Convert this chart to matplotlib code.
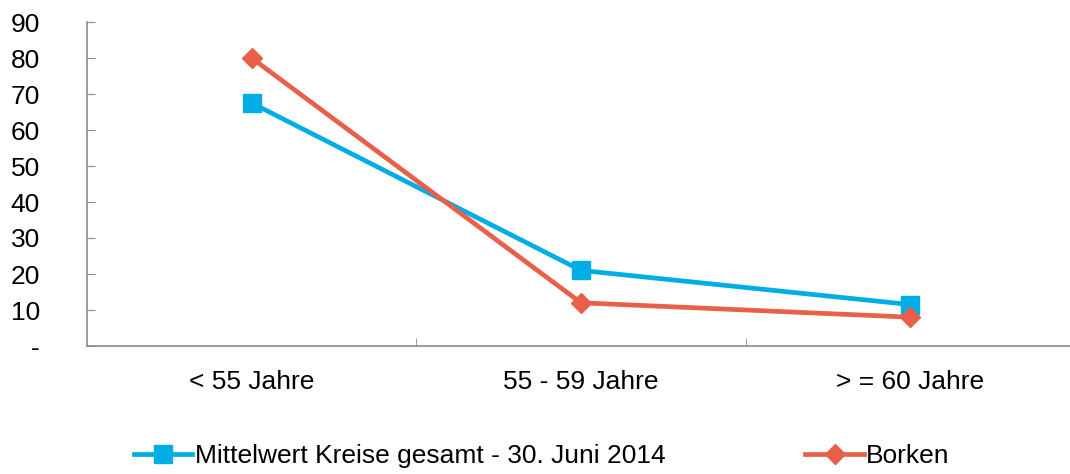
import numpy as np
import matplotlib.pyplot as plt

plt.rcParams['font.family'] = ['Liberation Sans', 'DejaVu Sans']

# data
categories = ['< 55 Jahre', '55 - 59 Jahre', '> = 60 Jahre']
kreise_mittel = [67.5, 21, 11.5]
borken = [80, 12, 8]
y_ticks = [0, 10, 20, 30, 40, 50, 60, 70, 80, 90]
y_labels = ['-', '10', '20', '30', '40', '50', '60', '70', '80', '90']

blue = '#00ADE6'
orange = '#E8604A'
axis_grey = '#8C8C8C'

fig = plt.figure(figsize=(10.7, 4.74), dpi=100)
ax = fig.add_axes([87 / 1070, 1 - 346 / 474, (1075 - 87) / 1070, (346 - 22) / 474])

x = np.arange(len(categories))
ax.plot(x, kreise_mittel, color=blue, lw=3.4, marker='s', ms=12.5,
        label='Mittelwert Kreise gesamt - 30. Juni 2014', zorder=3)
ax.plot(x, borken, color=orange, lw=3.4, marker='D', ms=10,
        label='Borken', zorder=4)

ax.set_xlim(-0.5, len(categories) - 0.5)
ax.set_ylim(0, 90)
ax.set_yticks(y_ticks)
ax.set_yticklabels(y_labels)
ax.set_xticks(x)
ax.set_xticklabels(categories)
ax.set_xticks(x[:-1] + 0.5, minor=True)

for side in ['top', 'right']:
    ax.spines[side].set_visible(False)
for side in ['left', 'bottom']:
    ax.spines[side].set_color(axis_grey)
    ax.spines[side].set_linewidth(1.2)

ax.tick_params(axis='y', direction='in', length=6, color=axis_grey,
               labelsize=19, pad=34)
ax.tick_params(axis='x', which='major', length=0, labelsize=19, pad=17)
ax.tick_params(axis='x', which='minor', direction='in', length=6,
               color=axis_grey)

fig.legend(loc='center', bbox_to_anchor=(542 / 1070, 1 - 456 / 474),
           ncol=2, frameon=False, fontsize=19, handlelength=2.2,
           handletextpad=0.1, columnspacing=5.3, borderpad=0)

fig.savefig('out.png', dpi=100)
